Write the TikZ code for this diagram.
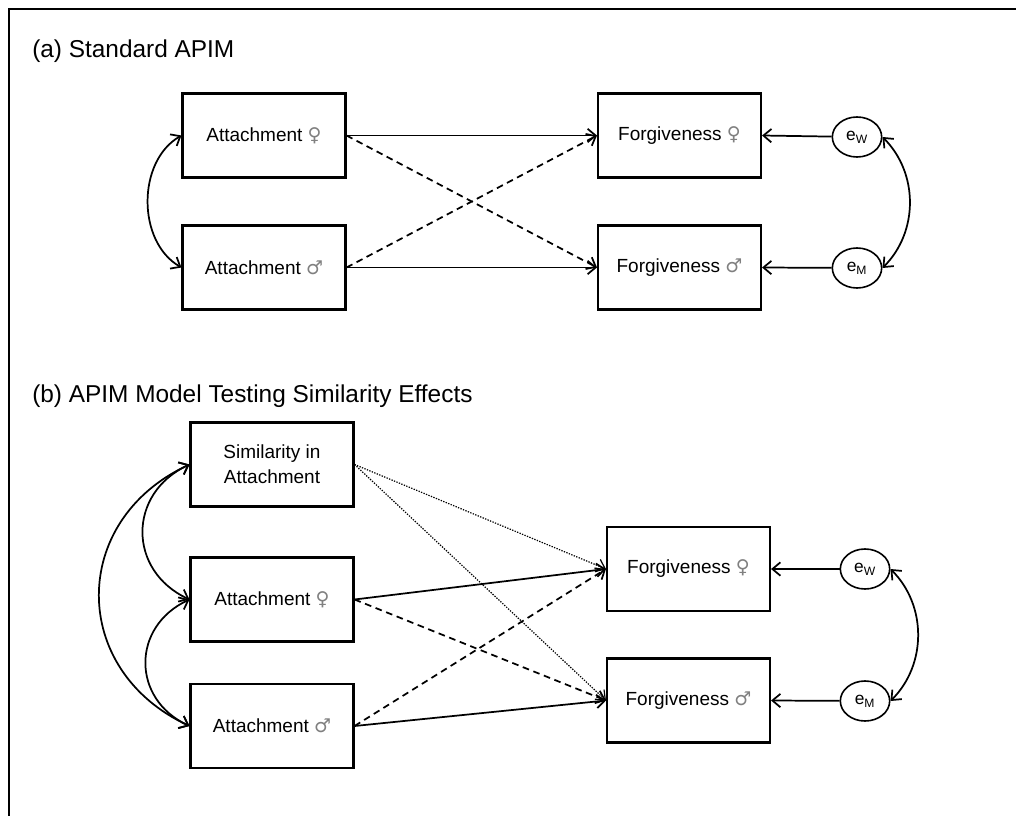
\documentclass[tikz,border=0pt]{standalone}
\usepackage{fontspec}
\setmainfont{Liberation Sans}
\newfontfamily\symfont{DejaVu Sans}
\usetikzlibrary{arrows.meta,shapes.geometric}

\newcommand{\femsym}{{\symfont\color{gray}\char"2640}}
\newcommand{\malsym}{{\symfont\color{gray}\char"2642}}

\begin{document}
\begin{tikzpicture}[x=0.75pt,y=0.75pt,yscale=-1,xscale=1,
    box/.style={draw, line width=1.8pt, minimum width=122pt, minimum height=63pt, inner sep=0pt, align=center, font=\fontsize{14.25}{18.5}\selectfont},
    err/.style={draw, ellipse, line width=1.2pt, minimum width=37pt, minimum height=30pt, inner sep=0pt, font=\fontsize{13}{15}\selectfont},
    effect/.style={line width=1.3pt, -{Straight Barb[length=6pt,width=10pt]}},
    partner/.style={effect, dash pattern=on 5pt off 3.5pt},
    simil/.style={effect, line width=0.9pt, dash pattern=on 1pt off 1pt},
    cov/.style={line width=1.3pt, {Straight Barb[length=6pt,width=10pt]}-{Straight Barb[length=6pt,width=10pt]}},
    title/.style={anchor=base west, inner sep=0pt, font=\fontsize{18.3}{22}\selectfont}]
        \useasboundingbox (0,0) rectangle (1016,816);
        %Shape: Frame
        \draw [line width=1.5pt] (9,816) -- (9,9) -- (1016,9) ;

        % Text Node
        \node [title] (titleA) at (32,58) {(a) Standard APIM};
        % Text Node
        \node [title] (titleB) at (32,402) {(b) APIM Model Testing Similarity Effects};

        %Shape: Rectangle (a)
        \node [box] (attWa) at (264,135.5) {Attachment \femsym};
        \node [box] (attMa) at (264,267.5) {Attachment \malsym};
        \node [box] (forWa) at (679.5,135.5) {Forgiveness \femsym};
        \node [box] (forMa) at (679.5,267.5) {Forgiveness \malsym};
        %Shape: Ellipse (a)
        \node [err] (eWa) at (857,137) {e\textsubscript{W}};
        \node [err] (eMa) at (857,268) {e\textsubscript{M}};

        \draw [effect] (attWa.east) -- (forWa.west) ;
        \draw [effect] (attMa.east) -- (forMa.west) ;
        \draw [partner] (attWa.east) -- (forMa.west) ;
        \draw [partner] (attMa.east) -- (forWa.west) ;
        \draw [effect] (eWa) -- (forWa.east) ;
        \draw [effect] (eMa) -- (forMa.east) ;
        \draw [cov] (attWa.west) to [bend left=60] (attMa.west) ;
        \draw [cov] (eWa.east) to [bend right=45] (eMa.east) ;

        %Shape: Rectangle (b)
        \node [box] (simb) at (272,464.5) {Similarity in\\Attachment};
        \node [box] (attWb) at (272,599.5) {Attachment \femsym};
        \node [box] (attMb) at (272,726) {Attachment \malsym};
        \node [box] (forWb) at (688.5,569) {Forgiveness \femsym};
        \node [box] (forMb) at (688.5,700.5) {Forgiveness \malsym};
        %Shape: Ellipse (b)
        \node [err] (eWb) at (865,569) {e\textsubscript{W}};
        \node [err] (eMb) at (865,701) {e\textsubscript{M}};

        \draw [effect] (attWb.east) -- (forWb.west) ;
        \draw [effect] (attMb.east) -- (forMb.west) ;
        \draw [partner] (attWb.east) -- (forMb.west) ;
        \draw [partner] (attMb.east) -- (forWb.west) ;
        \draw [simil] (simb.east) -- (forWb.west) ;
        \draw [simil] (simb.east) -- (forMb.west) ;
        \draw [effect] (eWb) -- (forWb.east) ;
        \draw [effect] (eMb) -- (forMb.east) ;
        \draw [cov] (simb.west) to [bend left=65, looseness=1.3] (attWb.west) ;
        \draw [cov] (attWb.west) to [bend left=65, looseness=1.3] (attMb.west) ;
        \draw [cov] (simb.west) to [bend left=65, looseness=1.3] (attMb.west) ;
        \draw [cov] (eWb.east) to [bend right=45] (eMb.east) ;

\end{tikzpicture}
\end{document}
